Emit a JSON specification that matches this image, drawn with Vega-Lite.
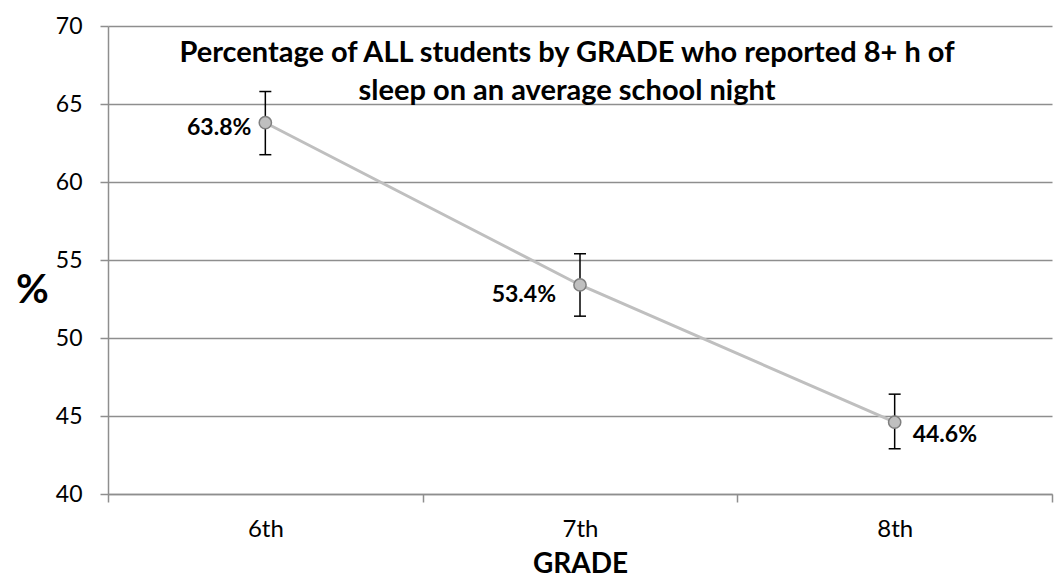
{
  "$schema": "https://vega.github.io/schema/vega-lite/v6.json",
  "width": 944,
  "height": 468,
  "autosize": {"type": "none"},
  "padding": {"left": 108, "top": 26, "right": 5, "bottom": 88},
  "background": "white",
  "config": {"view": {"stroke": null}, "font": "Lato"},
  "title": {
    "text": ["Percentage of ALL students by GRADE who reported 8+ h of", "sleep on an average school night"],
    "font": "Lato",
    "fontSize": 29,
    "fontWeight": "bold",
    "color": "black",
    "anchor": "middle",
    "frame": "group",
    "offset": -36,
    "baseline": "alphabetic",
    "lineHeight": 38,
    "dx": -13,
    "dy": 78
  },
  "data": {
    "values": [
      {"grade": "6th", "pct": 63.8, "lo": 61.75, "hi": 65.8, "label": "63.8%"},
      {"grade": "7th", "pct": 53.4, "lo": 51.4, "hi": 55.4, "label": "53.4%"},
      {"grade": "8th", "pct": 44.6, "lo": 42.9, "hi": 46.4, "label": "44.6%"}
    ]
  },
  "encoding": {
    "x": {
      "field": "grade",
      "type": "nominal",
      "scale": {"type": "band", "paddingInner": 0, "paddingOuter": 0},
      "axis": {
        "title": "GRADE",
        "titleFont": "Lato",
        "titleFontSize": 28,
        "titleFontWeight": "bold",
        "titleColor": "black",
        "titleBaseline": "alphabetic",
        "titleY": 78,
        "labelAngle": 0,
        "labelFont": "Lato",
        "labelFontSize": 24,
        "labelColor": "black",
        "labelPadding": 15,
        "tickBand": "extent",
        "tickSize": 8,
        "tickWidth": 1.5,
        "tickColor": "#8E8E8E",
        "domainColor": "#8E8E8E",
        "domainWidth": 1.5,
        "grid": false
      }
    }
  },
  "layer": [
    {
      "mark": {"type": "line", "color": "#BFBFBF", "strokeWidth": 3},
      "encoding": {
        "y": {
          "field": "pct",
          "type": "quantitative",
          "scale": {"domain": [40, 70], "nice": false, "zero": false},
          "axis": {
            "values": [40, 45, 50, 55, 60, 65, 70],
            "grid": true,
            "gridColor": "#8E8E8E",
            "gridWidth": 1.5,
            "domainColor": "#8E8E8E",
            "domainWidth": 1.5,
            "tickColor": "#8E8E8E",
            "tickWidth": 1.5,
            "tickSize": 8,
            "labelFont": "Lato",
            "labelFontSize": 23,
            "labelColor": "black",
            "labelPadding": 18,
            "title": "%",
            "titleFont": "Lato",
            "titleFontSize": 40,
            "titleFontWeight": "bold",
            "titleColor": "black",
            "titleAngle": 0,
            "titleAlign": "center",
            "titleBaseline": "alphabetic",
            "titleX": -76,
            "titleY": 276
          }
        }
      }
    },
    {
      "mark": {"type": "rule", "color": "black", "strokeWidth": 1.5},
      "encoding": {
        "y": {"field": "lo", "type": "quantitative"},
        "y2": {"field": "hi"}
      }
    },
    {
      "mark": {"type": "tick", "color": "black", "size": 12, "thickness": 1.5, "opacity": 1},
      "encoding": {"y": {"field": "lo", "type": "quantitative"}}
    },
    {
      "mark": {"type": "tick", "color": "black", "size": 12, "thickness": 1.5, "opacity": 1},
      "encoding": {"y": {"field": "hi", "type": "quantitative"}}
    },
    {
      "mark": {"type": "point", "shape": "circle", "filled": true, "fill": "#BFBFBF", "stroke": "#7F7F7F", "strokeWidth": 1.5, "size": 150, "opacity": 1},
      "encoding": {"y": {"field": "pct", "type": "quantitative"}}
    },
    {
      "transform": [{"filter": "datum.grade === '6th'"}],
      "mark": {"type": "text", "font": "Lato", "fontSize": 23, "fontWeight": "bold", "color": "black", "align": "right", "baseline": "middle", "dx": -14, "dy": 5},
      "encoding": {"y": {"field": "pct", "type": "quantitative"}, "text": {"field": "label"}}
    },
    {
      "transform": [{"filter": "datum.grade === '7th'"}],
      "mark": {"type": "text", "font": "Lato", "fontSize": 23, "fontWeight": "bold", "color": "black", "align": "right", "baseline": "middle", "dx": -24, "dy": 10},
      "encoding": {"y": {"field": "pct", "type": "quantitative"}, "text": {"field": "label"}}
    },
    {
      "transform": [{"filter": "datum.grade === '8th'"}],
      "mark": {"type": "text", "font": "Lato", "fontSize": 23, "fontWeight": "bold", "color": "black", "align": "left", "baseline": "middle", "dx": 18, "dy": 13},
      "encoding": {"y": {"field": "pct", "type": "quantitative"}, "text": {"field": "label"}}
    }
  ]
}
